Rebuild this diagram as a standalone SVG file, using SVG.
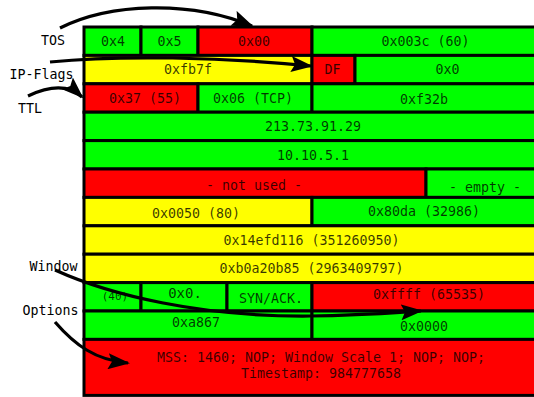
<svg xmlns="http://www.w3.org/2000/svg" width="534" height="397" viewBox="0 0 534 397">
<style>
.c rect{stroke:#000;stroke-width:3}
.g{fill:#00ff00}.r{fill:#ff0000}.y{fill:#ffff00}
text{font-family:"DejaVu Sans Mono","Liberation Mono",monospace;font-size:13.3px}
.t{fill:#000;fill-opacity:0.78;text-anchor:middle}
.l{fill:#000}
.a{fill:none;stroke:#000;stroke-width:3.2;marker-end:url(#ah)}
</style>
<defs>
<marker id="ah" viewBox="0 0 22 16" refX="20" refY="8" markerWidth="22" markerHeight="16" markerUnits="userSpaceOnUse" orient="auto">
<path d="M0,0 L22,8 L0,16 L4,8 z" fill="#000"/>
</marker>
</defs>
<rect width="534" height="397" fill="#fff"/>
<g class="c">
<g id="n-ver"><rect class="g" x="84" y="27" width="57" height="28.4"/><text class="t" x="113" y="46">0x4</text></g>
<g id="n-ihl"><rect class="g" x="141" y="27" width="57" height="28.4"/><text class="t" x="169.5" y="46">0x5</text></g>
<g id="n-tos"><rect class="r" x="198" y="27" width="114" height="28.4"/><text class="t" x="254" y="46">0x00</text></g>
<g id="n-len"><rect class="g" x="312" y="27" width="228" height="28.4"/><text class="t" x="425.5" y="46">0x003c (60)</text></g>

<g id="n-id"><rect class="y" x="84" y="55.4" width="228" height="28.4"/><text class="t" x="188" y="74">0xfb7f</text></g>
<g id="n-df"><rect class="r" x="312" y="55.4" width="43" height="28.4"/><text class="t" x="332.5" y="74">DF</text></g>
<g id="n-frag"><rect class="g" x="355" y="55.4" width="185" height="28.4"/><text class="t" x="447.5" y="74">0x0</text></g>

<g id="n-ttl"><rect class="r" x="84" y="83.8" width="114" height="28.4"/><text class="t" x="145" y="103">0x37 (55)</text></g>
<g id="n-proto"><rect class="g" x="198" y="83.8" width="114" height="28.4"/><text class="t" x="253" y="103">0x06 (TCP)</text></g>
<g id="n-csum"><rect class="g" x="312" y="83.8" width="228" height="28.4"/><text class="t" x="424" y="104">0xf32b</text></g>

<g id="n-src"><rect class="g" x="84" y="112.2" width="456" height="28.4"/><text class="t" x="313" y="130.5">213.73.91.29</text></g>
<g id="n-dst"><rect class="g" x="84" y="140.6" width="456" height="28.4"/><text class="t" x="313" y="160">10.10.5.1</text></g>

<g id="n-unused"><rect class="r" x="84" y="169" width="342" height="28.4"/><text class="t" x="254" y="190">- not used -</text></g>
<g id="n-empty"><rect class="g" x="426" y="169" width="114" height="28.4"/><text class="t" x="485" y="191.5">- empty -</text></g>

<g id="n-sport"><rect class="y" x="84" y="197.4" width="228" height="28.4"/><text class="t" x="196" y="217.5">0x0050 (80)</text></g>
<g id="n-dport"><rect class="g" x="312" y="197.4" width="228" height="28.4"/><text class="t" x="424" y="216">0x80da (32986)</text></g>

<g id="n-seq"><rect class="y" x="84" y="225.8" width="456" height="28.4"/><text class="t" x="311.5" y="244.5">0x14efd116 (351260950)</text></g>
<g id="n-ack"><rect class="y" x="84" y="254.2" width="456" height="28.4"/><text class="t" x="311.5" y="272.5">0xb0a20b85 (2963409797)</text></g>

<g id="n-off"><rect class="g" x="84" y="282.6" width="57" height="28.4"/><text class="t" x="115" y="300" style="font-size:11px">(40)</text></g>
<g id="n-res"><rect class="g" x="141" y="282.6" width="86" height="28.4"/><text class="t" x="185" y="298" style="font-size:14px">0x0.</text></g>
<g id="n-flags"><rect class="g" x="227" y="282.6" width="85" height="28.4"/><text class="t" x="271" y="302.5">SYN/ACK.</text></g>
<g id="n-win"><rect class="r" x="312" y="282.6" width="228" height="28.4"/><text class="t" x="429" y="298.5">0xffff (65535)</text></g>

<g id="n-tcsum"><rect class="g" x="84" y="311" width="228" height="28.4"/><text class="t" x="196" y="327">0xa867</text></g>
<g id="n-urg"><rect class="g" x="312" y="311" width="228" height="28.4"/><text class="t" x="424" y="330.5">0x0000</text></g>

<g id="n-opt"><rect class="r" x="84" y="339.4" width="456" height="56"/><text class="t" x="321" y="361.5">MSS: 1460; NOP; Window Scale 1; NOP; NOP;</text><text class="t" x="321" y="378">Timestamp: 984777658</text></g>
</g>
<g id="labels">
<text class="l" x="41" y="45">TOS</text>
<text class="l" x="9.5" y="79">IP-Flags</text>
<text class="l" x="18" y="113">TTL</text>
<text class="l" x="29.5" y="270.5">Window</text>
<text class="l" x="22.5" y="315">Options</text>
</g>
<g id="connectors">
<path class="a" d="M60,28 C110,3 190,0 252,26"/>
<path class="a" d="M50,62 C120,55 220,57 311,66"/>
<path class="a" d="M28,96 C45,88 66,82 82,97"/>
<path class="a" d="M55,270 C110,295 200,317 310,316 C360,315.5 390,313 421,311"/>
<path class="a" d="M55,322 C75,345 95,360 128,363"/>
</g>
</svg>
